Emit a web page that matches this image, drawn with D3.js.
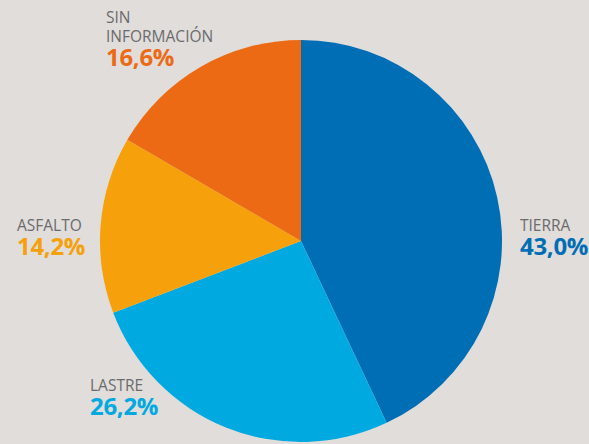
<!DOCTYPE html>
<html>
<head>
<meta charset="utf-8">
<script src="https://cdn.jsdelivr.net/npm/d3@7"></script>
<style>
  html, body { margin: 0; padding: 0; background: #e0dddb; }
  svg { display: block; }
</style>
</head>
<body>
<div id="chart"></div>
<script>
const categories = ["TIERRA", "LASTRE", "ASFALTO", "SIN INFORMACIÓN"];
const values = [43.0, 26.2, 14.2, 16.6];
const valueLabels = ["43,0%", "26,2%", "14,2%", "16,6%"];
const colors = ["#006eb5", "#00a9e0", "#f6a00b", "#ec6a13"];

const width = 589, height = 444;
const cx = 301, cy = 241, radius = 201;

const svg = d3.select("#chart").append("svg")
    .attr("width", width)
    .attr("height", height);

const pie = d3.pie().sort(null).value(d => d);
const arc = d3.arc().innerRadius(0).outerRadius(radius);

const g = svg.append("g").attr("transform", `translate(${cx},${cy})`);

g.selectAll("path")
  .data(pie(values))
  .join("path")
    .attr("d", arc)
    .attr("fill", (d, i) => colors[i]);

// label positions (manual placement like the original)
const labelPos = [
  {x: 520, y: 231},
  {x: 90, y: 391},
  {x: 17, y: 231},
  {x: 106, y: 23}
];

categories.forEach((c, i) => {
  const p = labelPos[i];
  const lines = c === "SIN INFORMACIÓN" ? ["SIN", "INFORMACIÓN"] : [c];
  const t = svg.append("text")
      .attr("x", p.x)
      .attr("y", p.y)
      .style("font-family", "'Open Sans', sans-serif")
      .style("font-size", "15.5px")
      .style("fill", "#6b6b6b");
  lines.forEach((l, j) => {
    t.append("tspan").attr("x", p.x).attr("dy", j === 0 ? 0 : 19).text(l);
  });
  svg.append("text")
      .attr("x", p.x)
      .attr("y", p.y + (lines.length - 1) * 19 + 23.5)
      .style("font-family", "'Open Sans', sans-serif")
      .style("font-size", "24px")
      .style("font-weight", "bold")
      .style("letter-spacing", "-0.3px")
      .style("fill", colors[i])
      .text(valueLabels[i]);
});
</script>
</body>
</html>
